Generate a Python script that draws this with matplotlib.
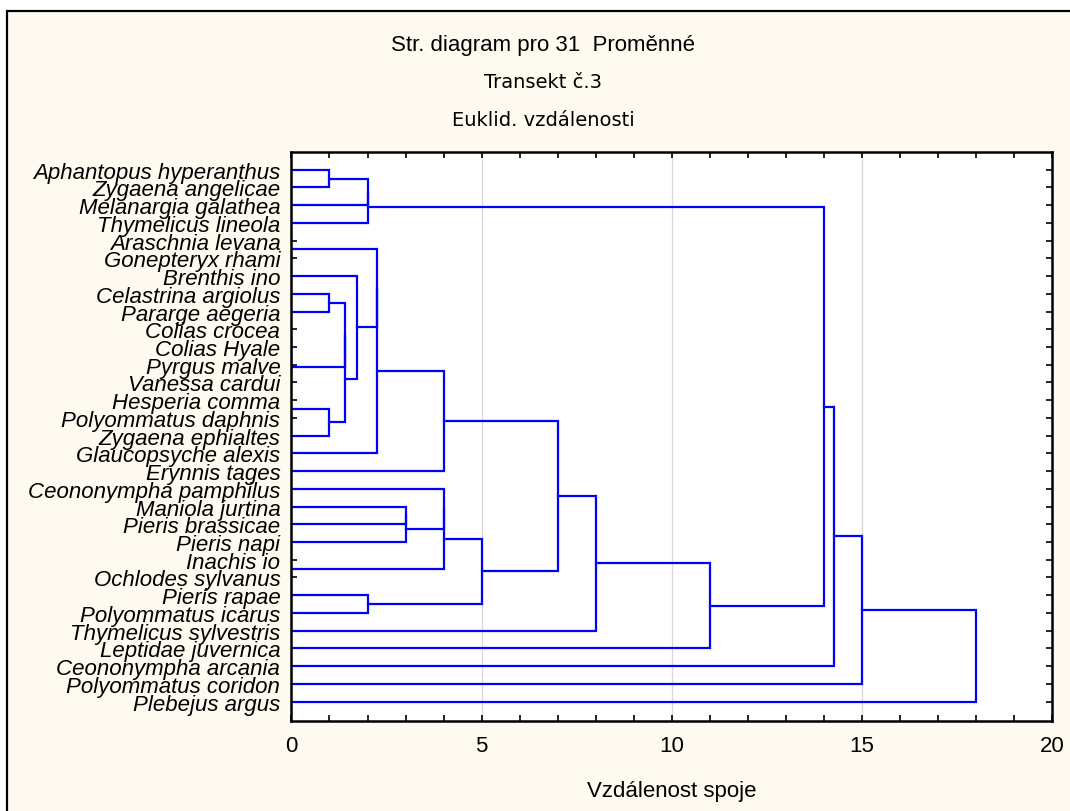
import matplotlib
matplotlib.use('Agg')
import matplotlib.pyplot as plt
from matplotlib.patches import Rectangle
from matplotlib.ticker import MultipleLocator

# Leaf labels, top to bottom
labels = ['Aphantopus hyperanthus', 'Zygaena angelicae', 'Melanargia galathea', 'Thymelicus lineola',
          'Araschnia levana', 'Gonepteryx rhami', 'Brenthis ino', 'Celastrina argiolus',
          'Pararge aegeria', 'Colias crocea', 'Colias Hyale', 'Pyrgus malve', 'Vanessa cardui',
          'Hesperia comma', 'Polyommatus daphnis', 'Zygaena ephialtes', 'Glaucopsyche alexis',
          'Erynnis tages', 'Ceononympha pamphilus', 'Maniola jurtina', 'Pieris brassicae',
          'Pieris napi', 'Inachis io', 'Ochlodes sylvanus', 'Pieris rapae', 'Polyommatus icarus',
          'Thymelicus sylvestris', 'Leptidae juvernica', 'Ceononympha arcania',
          'Polyommatus coridon', 'Plebejus argus']

# Joins: node a, node b (leaves 0..30, then clusters 31.. in order), link distance
join_a = [0, 31, 32, 4, 7, 9, 36, 37, 13, 39, 35, 41, 6, 34, 44, 45,
          19, 47, 22, 18, 50, 24, 51, 46, 54, 55, 33, 57, 58, 59]
join_b = [1, 2, 3, 5, 8, 10, 11, 12, 14, 15, 38, 40, 42, 43, 16, 17,
          20, 21, 23, 48, 49, 25, 52, 53, 26, 27, 56, 28, 29, 30]
join_d = [1.0, 2.0, 2.0, 0.0, 1.0, 0.0, 0.0, 0.0, 0.0, 1.0, 1.41, 1.41, 1.73, 2.24, 2.24, 4.0,
          3.0, 3.0, 0.0, 4.0, 4.0, 2.0, 5.0, 7.0, 8.0, 11.0, 14.0, 14.28, 15.0, 18.0]

cream = '#fffaf0'
blue = '#0000ff'

fig = plt.figure(figsize=(10.7, 8.12), dpi=100)
fig.patch.set_facecolor('white')
fig.patches.append(Rectangle((7 / 1070, -0.05), 1.1, 1 - 12 / 812 + 0.05, transform=fig.transFigure,
                             facecolor=cream, edgecolor='black', linewidth=1.6, zorder=-10))

ax = fig.add_axes([0.2724, 0.1108, 0.7107, 0.7008])
ax.set_zorder(1)
ax.set_facecolor('white')

# positions of every node: cluster sits midway between its two children
ypos = list(range(len(labels)))
height = [0.0] * len(labels)
for a, b, d in zip(join_a, join_b, join_d):
    ax.plot([height[a], d, d, height[b]], [ypos[a], ypos[a], ypos[b], ypos[b]],
            color=blue, linewidth=1.6, solid_joinstyle='miter')
    ypos.append((ypos[a] + ypos[b]) / 2)
    height.append(d)

ax.set_xlim(0, 20)
ax.set_ylim(31.1, -1)
ax.set_xticks([0, 5, 10, 15, 20])
ax.xaxis.set_minor_locator(MultipleLocator(1))
ax.set_yticks(range(len(labels)))
ax.set_yticklabels(labels, fontsize=16, fontstyle='italic', family='Liberation Sans')
for t in ax.get_xticklabels():
    t.set_family('Liberation Sans')
    t.set_fontsize(16)
ax.grid(axis='x', color='#d8d8d8', linewidth=0.9)
ax.set_axisbelow(True)
ax.tick_params(axis='both', which='both', direction='in', top=True, right=True, length=4, width=1.2)
ax.tick_params(axis='x', pad=10)
ax.tick_params(axis='y', pad=8)
for s in ax.spines.values():
    s.set_linewidth(1.8)

ax.set_xlabel('Vzdálenost spoje', fontsize=16, family='Liberation Sans', labelpad=17)

fig.text(0.5075, 1 - 45 / 812, 'Str. diagram pro 31  Proměnné', ha='center', va='center',
         fontsize=16, family='Liberation Sans')
fig.text(0.5075, 1 - 83 / 812, 'Transekt č.3', ha='center', va='center', fontsize=14, family='DejaVu Sans')
fig.text(0.5075, 1 - 121 / 812, 'Euklid. vzdálenosti', ha='center', va='center', fontsize=14,
         family='DejaVu Sans')

fig.savefig('out.png', dpi=100, facecolor=fig.get_facecolor())
